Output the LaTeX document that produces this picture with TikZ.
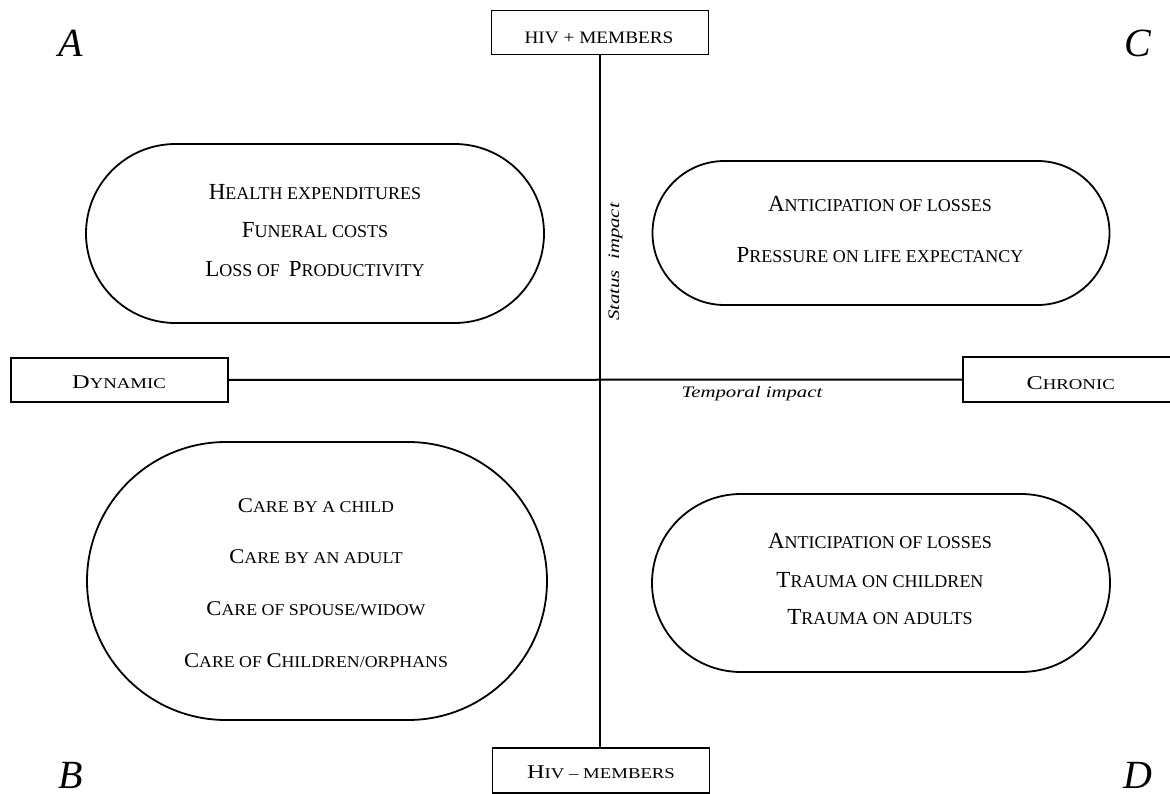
\documentclass[tikz,border=0pt]{standalone}
\usepackage{fontspec}
\usepackage{graphicx}
\setmainfont{Liberation Serif}
\usetikzlibrary{shapes.misc}

% hand-made small capitals: capital size and small-capital size
\def\bgsz{20}\def\smsz{15}
\newcommand\Bg[1]{{\fontsize{\bgsz}{\bgsz}\selectfont #1}}
\newcommand\Sm[1]{{\fontsize{\smsz}{\smsz}\selectfont #1}}
% horizontal stretch of a label
\newcommand\hs[2]{\scalebox{#1}[1]{#2}}

\tikzset{
  axis/.style={line width=2pt},
  labelbox/.style={draw, line width=1.8pt, minimum width=217pt, minimum height=44pt, inner sep=0pt},
  capsule/.style={draw, line width=1.8pt, rounded rectangle, inner sep=0pt},
  ovaltext/.style={anchor=base, inner sep=0pt,
    font={\def\bgsz{23}\def\smsz{18}\fontsize{18}{18}\selectfont}},
  caretext/.style={anchor=base, inner sep=0pt,
    font={\def\bgsz{21}\def\smsz{16.5}\fontsize{16.5}{16.5}\selectfont}},
  boxtext/.style={anchor=base, inner sep=0pt,
    font={\def\bgsz{19.5}\def\smsz{15}\fontsize{15}{15}\selectfont}},
  corner/.style={anchor=base, inner sep=0pt, font={\fontsize{40}{40}\selectfont\itshape}},
  axislabel/.style={anchor=base, inner sep=0pt, font={\fontsize{16}{16}\selectfont\itshape}},
}

\begin{document}
\begin{tikzpicture}[x=1pt,y=-1pt]
\useasboundingbox (0,0) rectangle (1170,794);
\clip (0,0) rectangle (1170,794);

% end boxes of the two axes
\node[labelbox] (hivpos) at (600,32.5) {};
\node[labelbox, minimum height=45pt] (hivneg) at (601,770.5) {};
\node[labelbox] (dyn) at (119.5,380) {};
\node[labelbox, minimum height=45pt] (chr) at (1071.5,379.5) {};

% the axes
\draw[axis] (hivpos.south) -- (hivpos.south |- hivneg.north);
\draw[axis] (dyn.east) -- (chr.west);

% box labels
\node[boxtext] (t-hivpos) at (599,43.3) {\hs{1.1}{\fontsize{17.5}{17.5}\selectfont HIV + MEMBERS}};
\node[boxtext] (t-hivneg) at (601,778) {\hs{1.25}{\Bg{H}\Sm{IV – MEMBERS}}};
\node[boxtext] (t-dyn) at (119,388.7) {\hs{1.25}{\Bg{D}\Sm{YNAMIC}}};
\node[boxtext] (t-chr) at (1070.7,389) {\hs{1.25}{\Bg{C}\Sm{HRONIC}}};

% axis captions
\node[axislabel] (t-temp) at (752,397) {\hs{1.3}{Temporal impact}};
\node[axislabel, rotate=90] (t-stat) at (619,262) {\hs{1.3}{Status~ impact}};

% quadrant capsules
\node[capsule, minimum width=458pt, minimum height=179pt] (qa) at (315,233.5) {};
\node[capsule, minimum width=457pt, minimum height=144pt] (qc) at (881,233) {};
\node[capsule, minimum width=460pt, minimum height=278pt] (qb) at (317,581) {};
\node[capsule, minimum width=458pt, minimum height=178pt] (qd) at (881,583) {};

% quadrant A
\node[ovaltext] (a1) at (315,200) {\Bg{H}\Sm{EALTH EXPENDITURES}};
\node[ovaltext] (a2) at (315,238) {\Bg{F}\Sm{UNERAL COSTS}};
\node[ovaltext] (a3) at (315,277) {\Bg{L}\Sm{OSS OF}~ \Bg{P}\Sm{RODUCTIVITY}};

% quadrant C
\node[ovaltext] (c1) at (880,212) {\Bg{A}\Sm{NTICIPATION OF LOSSES}};
\node[ovaltext] (c2) at (880,263) {\Bg{P}\Sm{RESSURE ON LIFE EXPECTANCY}};

% quadrant D
\node[ovaltext] (d1) at (880,548) {\Bg{A}\Sm{NTICIPATION OF LOSSES}};
\node[ovaltext] (d2) at (880,587) {\Bg{T}\Sm{RAUMA ON CHILDREN}};
\node[ovaltext] (d3) at (880,624) {\Bg{T}\Sm{RAUMA ON ADULTS}};

% quadrant B
\node[caretext] (b1) at (316,512) {\hs{1.08}{\Bg{C}\Sm{ARE BY A CHILD}}};
\node[caretext] (b2) at (316,563) {\hs{1.08}{\Bg{C}\Sm{ARE BY AN ADULT}}};
\node[caretext] (b3) at (316,615) {\hs{1.08}{\Bg{C}\Sm{ARE OF SPOUSE/WIDOW}}};
\node[caretext] (b4) at (316,667) {\hs{1.08}{\Bg{C}\Sm{ARE OF }\Bg{C}\Sm{HILDREN/ORPHANS}}};

% quadrant letters
\node[corner] (la) at (71,57) {A};
\node[corner] (lb) at (71,788) {B};
\node[corner] (lc) at (1138,57) {C};
\node[corner] (ld) at (1138,788) {D};
\end{tikzpicture}
\end{document}
